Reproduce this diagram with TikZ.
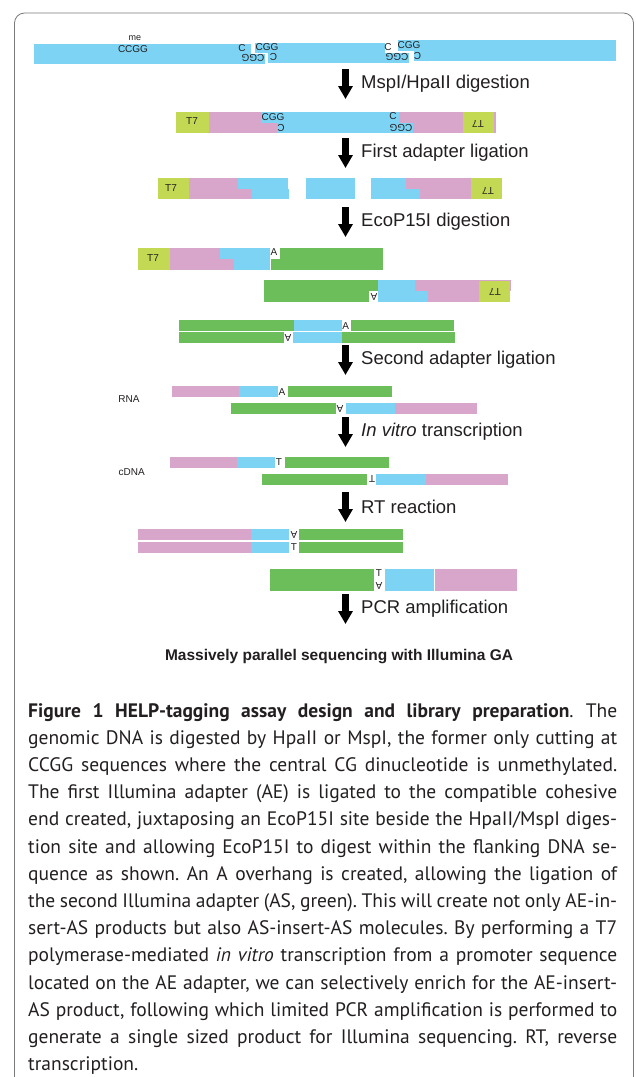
\documentclass[tikz,border=0pt]{standalone}
\usepackage{fontspec}
\setmainfont{Liberation Sans}
\newfontfamily\capfont{PT Sans}
\usetikzlibrary{arrows.meta}
\definecolor{dnablue}{HTML}{7DD3F4}
\definecolor{dnapink}{HTML}{D8A6CA}
\definecolor{dnagreen}{HTML}{6BBE5A}
\definecolor{tsevgreen}{HTML}{C3D853}
\definecolor{labtxt}{HTML}{231F20}
\definecolor{framegray}{HTML}{7A7A7A}
\frenchspacing
\tikzset{
  every picture/.append style={text=labtxt},
  sitelab/.style = {font=\fontsize{10}{10}\selectfont, inner sep=0pt},
  fliplab/.style = {sitelab, rotate=180},
  steplab/.style = {font=\fontsize{18.5}{20}\selectfont, anchor=west, inner sep=0pt},
  bigarr/.style  = {-{Triangle[length=13pt,width=14pt]}, line width=6.5pt, draw=black},
}
\newcommand{\seg}[5]{%                  % #1 = colour, #2 = x from, #3 = x to, #4 = y top, #5 = y bottom
  \fill[#1] (#2,#4) rectangle (#3,#5);}
\newcommand{\stepdown}[3]{%             % #1 = name, #2 = top y, #3 = text
  \coordinate (#1s) at (345.5,#2);
  \coordinate (#1e) at (345.5,#2+30);
  \draw[bigarr] (#1s) -- (#1e);
  \node[steplab] (#1lab) at (361,#2+15) {#3};}

\begin{document}
\begin{tikzpicture}[x=1pt,y=-1pt]
  \useasboundingbox (0,0) rectangle (635,1077);
  \draw[framegray, line width=0.8pt, rounded corners=10pt]
    (14.5,1077) -- (14.5,13) -- (633.5,13) -- (633.5,1077);

  % genomic DNA
  \seg{dnablue}{34}{251}{44}{54}   \seg{dnablue}{34}{265}{54}{64}
  \seg{dnablue}{255}{385}{42.5}{52.5} \seg{dnablue}{268}{409}{52.5}{62.5}
  \seg{dnablue}{398}{616}{40}{50.5}   \seg{dnablue}{414}{616}{50.5}{61}
  \node[sitelab, font=\fontsize{9}{9}\selectfont] (me) at (135,38.5) {me};
  \node[sitelab] (ccgg) at (133,49) {CCGG};
  \node[sitelab] (c1t) at (242,48.5) {C};
  \node[sitelab] (g1t) at (267,47) {CGG};
  \node[fliplab] (g1b) at (253,57.5) {CGG};
  \node[fliplab] (c1b) at (273.5,57) {C};
  \node[sitelab] (c2t) at (388,47) {C};
  \node[sitelab] (g2t) at (409,45) {CGG};
  \node[fliplab] (g2b) at (397,57) {CGG};
  \node[fliplab] (c2b) at (417.5,55.5) {C};

  \stepdown{a1}{69}{MspI/HpaII digestion}

  % digested fragment with first adapter
  \seg{tsevgreen}{176}{209}{112}{133}
  \seg{dnapink}{209}{261}{112}{122.5} \seg{dnapink}{209}{277}{122.5}{133}
  \seg{dnablue}{261}{399}{112}{122.5} \seg{dnablue}{277}{413}{122.5}{133}
  \seg{dnapink}{399}{495.5}{112}{122.5} \seg{dnapink}{413}{495.5}{122.5}{133}
  \seg{tsevgreen}{463}{494}{112}{133}
  \node[sitelab] (t7a) at (192,121) {T7};
  \node[sitelab] (g3t) at (273,117) {CGG};
  \node[fliplab] (c3b) at (281,127.5) {C};
  \node[sitelab] (c4t) at (393,116) {C};
  \node[fliplab] (g4b) at (401,127.5) {CGG};
  \node[fliplab] (t7b) at (478,124) {T7};

  \stepdown{a2}{138}{First adapter ligation}

  \seg{tsevgreen}{158}{189}{178}{199.3}
  \seg{dnapink}{189}{238}{178}{189} \seg{dnapink}{189}{252}{189}{199.3}
  \seg{dnablue}{238}{288}{178}{189} \seg{dnablue}{252}{289}{189}{199.3}
  \seg{dnablue}{306}{355}{178}{199.3}
  \seg{dnablue}{371}{406}{178}{189} \seg{dnablue}{371}{420}{189}{199.3}
  \seg{dnapink}{406}{471}{178}{189} \seg{dnapink}{420}{471}{189}{199.3}
  \seg{tsevgreen}{471}{502}{178}{199.3}
  \node[sitelab] (t7c) at (171,188) {T7};
  \node[fliplab] (t7d) at (488,191) {T7};

  \stepdown{a3}{207}{EcoP15I digestion}

  \seg{tsevgreen}{138}{170}{248}{269.7}
  \seg{dnapink}{170}{220}{248}{259} \seg{dnapink}{170}{234}{259}{269.7}
  \seg{dnablue}{220}{269.7}{248}{259} \seg{dnablue}{234}{269.7}{259}{269.7}
  \seg{dnagreen}{280}{383}{248}{259} \seg{dnagreen}{271}{383}{259}{269.7}
  \node[sitelab] (t7e) at (153,258) {T7};
  \node[sitelab] (aa) at (274,252.5) {A};

  \seg{dnagreen}{264}{378}{280}{291} \seg{dnagreen}{264}{369}{291}{301.7}
  \seg{dnablue}{378}{415}{280}{291} \seg{dnablue}{378}{428}{291}{301.7}
  \seg{dnapink}{415}{511}{280}{291} \seg{dnapink}{428}{479}{291}{301.7}
  \seg{tsevgreen}{479}{510}{281}{301.7}
  \node[fliplab] (ab) at (374,297) {A};
  \node[fliplab] (t7f) at (495,292) {T7};

  % AS-insert-AS
  \seg{dnagreen}{179}{294}{320}{331} \seg{dnablue}{294}{342}{320}{331}
  \seg{dnagreen}{351}{454}{320}{331}
  \seg{dnagreen}{179}{284}{332}{343} \seg{dnablue}{292.7}{342}{332}{343}
  \seg{dnagreen}{342}{455}{332}{343}
  \node[sitelab] (ac) at (345.7,326) {A};
  \node[fliplab] (ad) at (288,337.5) {A};

  \stepdown{a4}{345}{Second adapter ligation}

  % RNA
  \node[sitelab] (rna) at (129,399) {RNA};
  \seg{dnapink}{172}{239}{386}{397} \seg{dnablue}{239}{278}{386}{397}
  \seg{dnagreen}{288}{392}{386}{397}
  \node[sitelab] (ae) at (282,392) {A};
  \seg{dnagreen}{231}{336}{403}{414} \seg{dnablue}{346}{395}{403}{414}
  \seg{dnapink}{395}{477}{403}{414}
  \node[fliplab] (af) at (340,409) {A};

  \stepdown{a5}{417}{\textit{In vitro} transcription}

  % cDNA
  \node[sitelab] (cdna) at (131.7,472) {cDNA};
  \seg{dnapink}{170}{237}{457}{468} \seg{dnablue}{237}{275}{457}{468}
  \seg{dnagreen}{285}{389}{457}{468}
  \node[sitelab] (ta) at (279,462.5) {T};
  \seg{dnagreen}{262}{367}{474}{485} \seg{dnablue}{376}{426}{474}{485}
  \seg{dnapink}{426}{508}{474}{485}
  \node[fliplab] (tb) at (372,479) {T};

  \stepdown{a6}{492}{RT reaction}

  \seg{dnapink}{138}{251}{529}{540} \seg{dnablue}{251}{289}{529}{540}
  \seg{dnagreen}{299}{403}{529}{540}
  \seg{dnapink}{138}{251}{541.7}{552.7} \seg{dnablue}{251}{289}{541.7}{552.7}
  \seg{dnagreen}{299}{403}{541.7}{552.7}
  \node[fliplab] (ag) at (294,534.5) {A};
  \node[sitelab] (tc) at (294,547) {T};

  \seg{dnagreen}{270}{374}{569}{591} \seg{dnablue}{385}{434}{569}{591}
  \seg{dnapink}{435}{517}{569}{591}
  \node[sitelab] (td) at (379,573.5) {T};
  \node[fliplab] (ah) at (379,586) {A};

  \stepdown{a7}{594}{PCR amplification}

  \node[font=\fontsize{15.5}{17}\selectfont\bfseries, inner sep=0pt] (seq) at (339,657)
    {Massively parallel sequencing with Illumina GA};

  \node[anchor=north west, text width=589pt, align=justify, inner sep=0pt,
        font=\capfont\fontsize{19.5}{27.2}\selectfont] (caption) at (28,703) {%
    {\bfseries Figure 1 HELP-tagging assay design and library preparation}. The\linebreak
    genomic DNA is digested by HpaII or MspI, the former only cutting at\linebreak
    CCGG sequences where the central CG dinucleotide is unmethylated.\linebreak
    The first Illumina adapter (AE) is ligated to the compatible cohesive\linebreak
    end created, juxtaposing an EcoP15I site beside the HpaII/MspI diges-\linebreak
    tion site and allowing EcoP15I to digest within the flanking DNA se-\linebreak
    quence as shown. An A overhang is created, allowing the ligation of\linebreak
    the second Illumina adapter (AS, green). This will create not only AE-in-\linebreak
    sert-AS products but also AS-insert-AS molecules. By performing a T7\linebreak
    polymerase-mediated \textit{in vitro} transcription from a promoter sequence\linebreak
    located on the AE adapter, we can selectively enrich for the AE-insert-\linebreak
    AS product, following which limited PCR amplification is performed to\linebreak
    generate a single sized product for Illumina sequencing. RT, reverse\linebreak
    transcription.};
\end{tikzpicture}
\end{document}
